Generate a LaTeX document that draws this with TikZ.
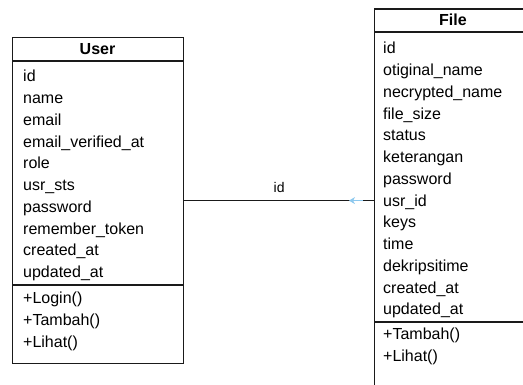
\documentclass[tikz,border=0pt]{standalone}
\usepackage{fontspec}
\setmainfont{Liberation Sans}
\usetikzlibrary{arrows.meta}
\definecolor{edge}{HTML}{1A1A1A}
\definecolor{hover}{HTML}{8CC8EE}
\tikzset{
  box/.style={draw=edge, line width=1.2pt, anchor=north west, inner sep=0pt},
  attr/.style={anchor=base west, inner sep=0pt, font=\fontsize{16}{16}\selectfont},
  ttl/.style={anchor=base, inner sep=0pt, font=\fontsize{16}{16}\selectfont\bfseries},
  sep/.style={draw=edge, line width=1.2pt},
  conn/.style={draw=edge, line width=1.2pt},
}
\begin{document}
\begin{tikzpicture}[x=1pt,y=-1pt]
\useasboundingbox (0,0) rectangle (523,385);
\clip (0,0) rectangle (523,385);
% User class
\node[box, minimum width=171pt, minimum height=326pt] (user) at (12,37) {};
\node[ttl] (usertitle) at (97.5,54.5) {User};
\draw[sep] (12,61) -- (183,61);
\draw[sep] (12,285) -- (183,285);
\foreach \t [count=\i from 0] in {id,name,email,email\_verified\_at,role,usr\_sts,password,remember\_token,created\_at,updated\_at}
  \node[attr] (ua\i) at (23,{82+21.75*\i}) {\t};
\foreach \t [count=\i from 0] in {+Login(),+Tambah(),+Lihat()}
  \node[attr] (um\i) at (23,{304+21.7*\i}) {\t};
% File class
\node[box, minimum width=158pt, minimum height=383pt] (file) at (374,8.5) {};
\node[ttl] (filetitle) at (453,26) {File};
\draw[sep] (374,32) -- (523,32);
\draw[sep] (374,322) -- (523,322);
\foreach \t [count=\i from 0] in {id,otiginal\_name,necrypted\_name,file\_size,status,keterangan,password,usr\_id,keys,time,dekripsitime,created\_at,updated\_at}
  \node[attr] (fa\i) at (383,{54+21.75*\i}) {\t};
\foreach \t [count=\i from 0] in {+Tambah(),+Lihat()}
  \node[attr] (fm\i) at (383,{340+21.7*\i}) {\t};
% Association
\draw[conn] (user.east) -- node[above=7pt, font=\fontsize{14}{14}\selectfont, inner sep=0pt] (lbl) {id} (file.west);
\coordinate (hs) at ([xshift=-11pt]file.west);
\coordinate (he) at ([xshift=-25pt]file.west);
\draw[hover, line width=1.8pt, -{Stealth[length=6pt,width=7pt]}] (hs) -- (he);
\end{tikzpicture}
\end{document}
